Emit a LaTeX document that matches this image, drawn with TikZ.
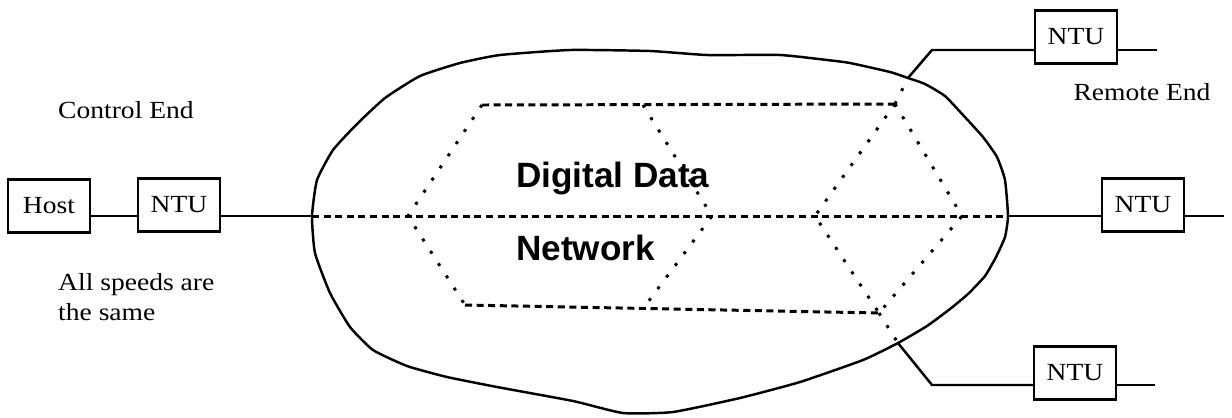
\documentclass[tikz,border=0pt]{standalone}
\usepackage{fontspec}
\setmainfont{Liberation Serif}
\newfontfamily\lblfont[FakeStretch=1.12]{Liberation Serif}
\newfontfamily\netfont{Liberation Sans}
\begin{document}
\begin{tikzpicture}[x=0.02cm,y=-0.02cm,line width=1.4pt,
  box/.style={draw,minimum width=46.5pt,minimum height=30pt,inner sep=0pt,
    font=\lblfont\fontsize{14}{16}\selectfont},
  lbl/.style={inner sep=0pt,font=\lblfont\fontsize{14}{17}\selectfont},
  net/.style={inner sep=0pt,font=\netfont\bfseries\fontsize{20}{24}\selectfont},
  dashline/.style={line width=1.7pt,dash pattern=on 4pt off 2.6pt},
  dotline/.style={line width=1.7pt,dash pattern=on 1.7pt off 6.6pt}]
        \useasboundingbox (0,0) rectangle (1232,417);

        % boxes
        \node[box] (H) at (49,206) {Host};
        \node[box] (L) at (179,205) {NTU};
        \node[box] (T) at (1076,37) {NTU};
        \node[box] (R) at (1143,205) {NTU};
        \node[box] (B) at (1075,373) {NTU};

        % where the lines meet the cloud
        \coordinate (M1) at (312,216);
        \coordinate (M2) at (1008,216);
        \coordinate (J1) at (908,78);
        \coordinate (K1) at (932,50);
        \coordinate (J2) at (898,343);
        \coordinate (K2) at (932,385);
        \coordinate (R2) at (1224,216);
        \coordinate (T2) at (1157,50);
        \coordinate (B2) at (1155,385);

        % inside the network
        \coordinate (a1) at (482,105);
        \coordinate (a2) at (408,216);
        \coordinate (a3) at (465,305);
        \coordinate (b1) at (643,105);
        \coordinate (b2) at (712,216);
        \coordinate (b3) at (645,306);
        \coordinate (c1) at (895,104);
        \coordinate (c2) at (815,216);
        \coordinate (c3) at (962,216);
        \coordinate (c4) at (879,313);

        % cloud
        \draw plot[smooth cycle, tension=0.3] coordinates {
          (312,216) (317,180) (333,150) (357,124) (385,98) (420,76)
          (460,63) (500,55) (570,50) (650,51) (707,55) (780,55) (827,60)
          (850,63) (890,72) (908,78) (925,84) (945,96) (963,115) (983,137)
          (997,157) (1005,180) (1008,216) (1005,237) (996,257)
          (985,276) (968,294) (950,309) (927,326) (898,343) (863,360)
          (800,382) (740,398) (673,412) (623,413) (573,401)
          (497,387) (447,377) (407,366) (373,350) (350,327)
          (330,293) (315,253)};

        \draw (H.east |- M1) -- (L.west |- M1);
        \draw (L.east |- M1) -- (M1);
        \draw[dashline] (M1) -- (M2);
        \draw (M2) -- (R.west |- M2);
        \draw (R.east |- M2) -- (R2);
        \draw (J1) -- (K1) -- (T.west |- K1);
        \draw (T.east |- K1) -- (T2);
        \draw (J2) -- (K2) -- (B.west |- K2);
        \draw (B.east |- K2) -- (B2);

        \draw[dashline] (a1) -- (c1);
        \draw[dashline] (a3) -- (c4);
        \draw[dotline] (a1) -- (a2) -- (a3);
        \draw[dotline] (b1) -- (b2) -- (b3);
        \draw[dotline] (c1) -- (c2) -- (c4);
        \draw[dotline] (c1) -- (c3) -- (c4);
        \draw[dotline] (c1) -- (J1);
        \draw[dotline] (c4) -- (J2);

        % labels
        \node[lbl, anchor=base west] (ctrl) at (57,118) {Control End};
        \node[lbl, anchor=north west, align=left] (speed) at (57,272) {All speeds are\\the same};
        \node[lbl, anchor=base] (rem) at (1142,100) {Remote End};
        \node[net, anchor=base west] (dd) at (515,187) {Digital Data};
        \node[net, anchor=base west] (nw) at (515,260) {Network};
      \end{tikzpicture}
\end{document}
